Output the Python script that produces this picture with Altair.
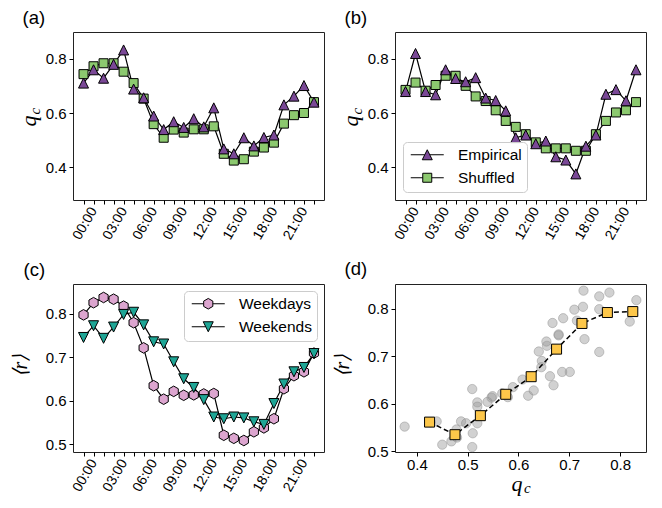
import json
import altair as alt
import pandas as pd

# ---------------- data ----------------
hours = list(range(24))
hour_tick_labels = ["00:00", "03:00", "06:00", "09:00", "12:00", "15:00", "18:00", "21:00"]

qc_a_empirical = [0.710, 0.759, 0.728, 0.779, 0.832, 0.688, 0.656, 0.589, 0.539, 0.568, 0.547, 0.579,
                  0.549, 0.619, 0.468, 0.450, 0.509, 0.479, 0.510, 0.519, 0.630, 0.662, 0.701, 0.640]
qc_a_shuffled = [0.743, 0.772, 0.783, 0.783, 0.752, 0.710, 0.653, 0.559, 0.509, 0.539, 0.528, 0.540,
                 0.540, 0.551, 0.450, 0.425, 0.430, 0.458, 0.473, 0.491, 0.561, 0.592, 0.600, 0.640]
qc_b_empirical = [0.679, 0.819, 0.679, 0.667, 0.759, 0.727, 0.715, 0.730, 0.655, 0.646, 0.608, 0.509,
                  0.519, 0.487, 0.497, 0.439, 0.427, 0.376, 0.478, 0.519, 0.669, 0.686, 0.645, 0.759]
qc_b_shuffled = [0.685, 0.712, 0.682, 0.703, 0.737, 0.737, 0.700, 0.661, 0.644, 0.610, 0.571, 0.549,
                 0.522, 0.492, 0.470, 0.470, 0.470, 0.461, 0.461, 0.522, 0.571, 0.602, 0.610, 0.640]
r_weekdays = [0.798, 0.826, 0.838, 0.834, 0.818, 0.780, 0.722, 0.635, 0.604, 0.622, 0.613, 0.614,
              0.616, 0.617, 0.521, 0.514, 0.509, 0.529, 0.538, 0.559, 0.628, 0.658, 0.667, 0.710]
r_weekends = [0.746, 0.773, 0.744, 0.770, 0.799, 0.804, 0.775, 0.736, 0.731, 0.690, 0.651, 0.631,
              0.603, 0.563, 0.559, 0.563, 0.561, 0.552, 0.546, 0.594, 0.639, 0.667, 0.677, 0.709]
bin_qc = [0.425, 0.475, 0.525, 0.575, 0.625, 0.675, 0.725, 0.775, 0.825]
bin_r = [0.5615, 0.535, 0.575, 0.620, 0.657, 0.715, 0.769, 0.792, 0.794]

# ---------------- style ----------------
SANS = "Liberation Sans"
SERIF = "Liberation Serif"
PURPLE = "#7a4896"
GREEN = "#8cc96f"
PINK = "#dca5cf"
TEAL = "#1ea595"
YELLOW = "#fdc74a"

TRI_UP = "M0,-1L1,1L-1,1Z"
TRI_DOWN = "M-1,-1L1,-1L0,1Z"
SQUARE9 = "M-0.9,-0.9H0.9V0.9H-0.9Z"
SQUARE10 = "M-1,-1H1V1H-1Z"
HEXAGON = "M0,-1.06L0.918,-0.53L0.918,0.53L0,1.06L-0.918,0.53L-0.918,-0.53Z"


def legend_path(marker, half):
    return f"M-3.3,0H-{half}M{half},0H3.3" + marker


W, H = 251, 168
HOUR_DOMAIN = [-1.05, 24.0]
label_expr = f"datum.value % 3 == 0 ? {json.dumps(hour_tick_labels)}[floor(datum.value / 3)] : ''"
INDEP = dict(shape="independent", fill="independent", stroke="independent")


def panel_title(text, dx):
    return alt.Title(text, frame="group", anchor="start", dx=dx)


def hour_x():
    return alt.X(
        "hour:Q",
        scale=alt.Scale(domain=HOUR_DOMAIN, nice=False, zero=False),
        axis=alt.Axis(values=hours, labelExpr=label_expr, labelAngle=-60, labelAlign="right",
                      labelBaseline="middle", labelOffset=10, labelPadding=4, labelOverlap=False,
                      labelFlush=False, tickSize=4, title=None, orient="bottom", labelFontSize=14),
    )


def sub_axis(orient, tx, ty):
    return alt.Axis(orient=orient, title="c", labels=False, ticks=False, domain=False, grid=False,
                    titleFontSize=15, titleX=tx, titleY=ty, titleAlign="left",
                    titleBaseline="alphabetic", titleAngle=-90 if orient == "left" else 0)


def make_legend(orient, offset):
    return alt.Legend(
        title=None, orient=orient, offset=offset, padding=5, cornerRadius=4,
        fillColor="rgba(255,255,255,0.85)", strokeColor="#cccccc",
        labelFont=SANS, labelFontSize=15.5, labelColor="black",
        symbolSize=100, symbolOffset=11.5, labelOffset=23, rowPadding=6,
        symbolStrokeWidth=1, symbolOpacity=1,
    )


def legend_layer(df, x, y, order, stub_paths, colors, orient, offset):
    leg = make_legend(orient, offset)
    return alt.Chart(df).transform_filter("false").mark_point(
        filled=True, opacity=1, size=100, strokeWidth=1
    ).encode(
        x=x, y=y,
        shape=alt.Shape("series:N", scale=alt.Scale(domain=order, range=stub_paths), legend=leg),
        fill=alt.Fill("series:N", scale=alt.Scale(domain=order, range=colors), legend=leg),
        stroke=alt.Stroke("series:N", scale=alt.Scale(domain=order, range=["black", "black"]), legend=leg),
    )


def qc_panel(emp, shuf, title, with_legend):
    df = pd.DataFrame({
        "hour": hours + hours,
        "val": shuf + emp,
        "series": ["Shuffled"] * 24 + ["Empirical"] * 24,
    })
    order = ["Empirical", "Shuffled"]
    colors = [PURPLE, GREEN]
    yscale = alt.Scale(domain=[0.28, 0.898], nice=False, zero=False)
    main_y = alt.Axis(orient="left", values=[0.4, 0.6, 0.8], format=".1f", tickSize=4, labelPadding=3,
                      title="q", titleFontSize=22, titleX=-38, titleY=94, titleAlign="left",
                      titleBaseline="alphabetic", titleAngle=-90)
    lines = alt.Chart(df).mark_line(color="black", strokeWidth=1.2).encode(
        x=hour_x(), y=alt.Y("val:Q", scale=yscale, axis=sub_axis("left", -34, 82)),
        detail="series:N")
    pts = alt.Chart(df).mark_point(filled=True, opacity=1, size=100, stroke="black", strokeWidth=1).encode(
        x=hour_x(), y=alt.Y("val:Q", scale=yscale, axis=main_y),
        shape=alt.Shape("series:N", scale=alt.Scale(domain=order, range=[TRI_UP, SQUARE9]), legend=None),
        fill=alt.Fill("series:N", scale=alt.Scale(domain=order, range=colors), legend=None),
    )
    layers = [lines, pts]
    if with_legend:
        layers.append(legend_layer(df, hour_x(), alt.Y("val:Q", scale=yscale, axis=None), order,
                                   [legend_path(TRI_UP, 0.5), legend_path(SQUARE9, 0.9)], colors,
                                   "bottom-left", 8))
    return alt.layer(*layers).resolve_axis(y="independent").resolve_scale(**INDEP).properties(
        width=W, height=H, title=panel_title(title, -50.5))


pa = qc_panel(qc_a_empirical, qc_a_shuffled, "(a)", False)
pb = qc_panel(qc_b_empirical, qc_b_shuffled, "(b)", True)

# ---- panel (c)
df_c = pd.DataFrame({
    "hour": hours + hours,
    "val": r_weekdays + r_weekends,
    "series": ["Weekdays"] * 24 + ["Weekends"] * 24,
})
order_c = ["Weekdays", "Weekends"]
colors_c = [PINK, TEAL]
yscale_c = alt.Scale(domain=[0.4825, 0.869], nice=False, zero=False)
yaxis_c = alt.Axis(orient="left", values=[0.5, 0.6, 0.7, 0.8], format=".1f", tickSize=4, labelPadding=3,
                   title="⟨r⟩", titleFontSize=20, titleX=-46.5, titleY=81, titleAlign="center",
                   titleBaseline="alphabetic", titleAngle=-90)
lines_c = alt.Chart(df_c).mark_line(color="black", strokeWidth=1.2).encode(
    x=hour_x(), y=alt.Y("val:Q", scale=yscale_c, axis=yaxis_c), detail="series:N")
pts_c = alt.Chart(df_c).mark_point(filled=True, opacity=1, size=100, stroke="black", strokeWidth=1).encode(
    x=hour_x(), y=alt.Y("val:Q", scale=yscale_c, axis=yaxis_c),
    shape=alt.Shape("series:N", scale=alt.Scale(domain=order_c, range=[HEXAGON, TRI_DOWN]), legend=None),
    fill=alt.Fill("series:N", scale=alt.Scale(domain=order_c, range=colors_c), legend=None),
)
leg_c = legend_layer(df_c, hour_x(), alt.Y("val:Q", scale=yscale_c, axis=yaxis_c), order_c,
                     [legend_path(HEXAGON, 0.92), legend_path(TRI_DOWN, 0.5)], colors_c, "top-right", 7)
pc = alt.layer(lines_c, pts_c, leg_c).resolve_scale(**INDEP).properties(
    width=W, height=H, title=panel_title("(c)", -49.5))

# ---- panel (d)
df_scatter = pd.DataFrame({
    "qc": qc_a_empirical + qc_b_empirical,
    "r": r_weekdays + r_weekends,
})
df_bins = pd.DataFrame({"qc": bin_qc, "r": bin_r})
xscale_d = alt.Scale(domain=[0.357, 0.851], nice=False, zero=False)
yscale_d = alt.Scale(domain=[0.4986, 0.852], nice=False, zero=False)
xaxis_d = alt.Axis(orient="bottom", values=[0.4, 0.5, 0.6, 0.7, 0.8], format=".1f", tickSize=4,
                   labelPadding=1.5, labelAngle=0, title="q", titleFontSize=22, titleX=116, titleY=38.5,
                   titleAlign="left", titleBaseline="alphabetic", titleAngle=0)
yaxis_d = alt.Axis(orient="left", values=[0.5, 0.6, 0.7, 0.8], format=".1f", tickSize=4, labelPadding=3,
                   title="⟨r⟩", titleFontSize=20, titleX=-46.5, titleY=81, titleAlign="center",
                   titleBaseline="alphabetic", titleAngle=-90)
scatter = alt.Chart(df_scatter).mark_point(
    shape="circle", filled=True, size=87, fill="#9a9a9a", fillOpacity=0.45,
    stroke="#8a8a8a", strokeOpacity=0.45, strokeWidth=1, opacity=1
).encode(x=alt.X("qc:Q", scale=xscale_d, axis=xaxis_d), y=alt.Y("r:Q", scale=yscale_d, axis=yaxis_d))
dash = alt.Chart(df_bins).mark_line(color="black", strokeWidth=1.5, strokeDash=[5, 3]).encode(
    x=alt.X("qc:Q", scale=xscale_d, axis=sub_axis("bottom", 128.5, 40.5)),
    y=alt.Y("r:Q", scale=yscale_d, axis=yaxis_d))
squares = alt.Chart(df_bins).mark_point(
    shape=SQUARE10, filled=True, size=100, fill=YELLOW, stroke="black", strokeWidth=1, opacity=1
).encode(x=alt.X("qc:Q", scale=xscale_d, axis=None), y=alt.Y("r:Q", scale=yscale_d, axis=yaxis_d))
pd_ = alt.layer(scatter, dash, squares).resolve_axis(x="independent").properties(
    width=W, height=H, title=panel_title("(d)", -50.4))

chart = alt.concat(
    pa, pb, pc, pd_, columns=2, spacing={"row": 84, "column": 71}, bounds="flush"
).resolve_scale(**INDEP).properties(
    padding={"left": 2, "top": 0, "right": 0, "bottom": 0}
).configure_view(
    stroke="#222222", strokeWidth=1
).configure_axis(
    labelFont=SANS, labelFontSize=15, labelColor="black", tickColor="black", tickWidth=1,
    domain=False, grid=False, titleColor="black", titleFont=SERIF, titleFontStyle="italic",
    titleFontWeight="normal"
).configure_title(
    font=SANS, fontSize=18.5, fontWeight="normal", offset=5, color="black"
)

chart.save("out.html", embed_options={"renderer": "svg", "actions": False})
